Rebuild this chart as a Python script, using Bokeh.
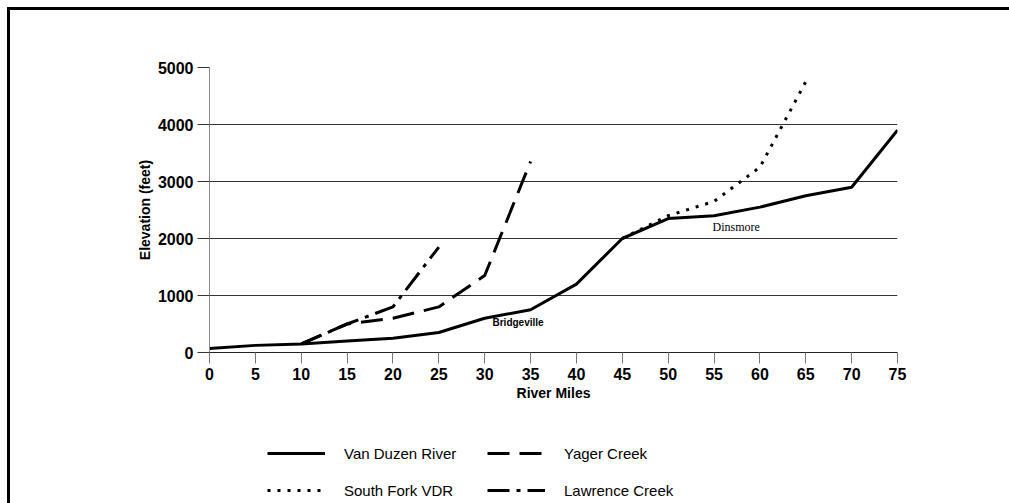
from bokeh.plotting import figure
from bokeh.models import Legend, LegendItem, Label, FixedTicker, Range1d
from bokeh.layouts import column
from bokeh.embed import file_html
from bokeh.resources import INLINE

# ---- data ----
van_duzen_x = [0, 5, 10, 15, 20, 25, 30, 35, 40, 45, 50, 55, 60, 65, 70, 75]
van_duzen_y = [70, 125, 150, 200, 250, 350, 600, 750, 1200, 2000, 2350, 2400, 2550, 2750, 2900, 3900]

yager_x = [10, 15, 20, 25, 30, 35]
yager_y = [150, 500, 600, 800, 1350, 3350]

south_fork_x = [45, 50, 55, 60, 65]
south_fork_y = [2000, 2400, 2650, 3250, 4750]

lawrence_x = [10, 15, 20, 25]
lawrence_y = [150, 500, 800, 1850]

x_ticks = [0, 5, 10, 15, 20, 25, 30, 35, 40, 45, 50, 55, 60, 65, 70, 75]
y_ticks = [0, 1000, 2000, 3000, 4000, 5000]

series_names = ["Van Duzen River", "Yager Creek", "South Fork VDR", "Lawrence Creek"]
series_x = [van_duzen_x, yager_x, south_fork_x, lawrence_x]
series_y = [van_duzen_y, yager_y, south_fork_y, lawrence_y]

FONT = "Liberation Sans"
DASHES = ["solid", "22 10", "3 7", "22 7 4 7"]

p = figure(width=1009, height=420, output_backend="svg", toolbar_location=None,
           x_range=Range1d(0, 75), y_range=Range1d(0, 5000),
           min_border_left=209, min_border_right=112, min_border_top=67, min_border_bottom=68)
p.border_fill_color = None
p.background_fill_color = "white"
p.outline_line_color = None
p.styles = {"box-shadow": "inset 7px 7px 0 0 white, inset 10px 10px 0 0 black"}

# axes
p.xaxis.ticker = FixedTicker(ticks=x_ticks)
p.yaxis.ticker = FixedTicker(ticks=y_ticks)
for ax in (p.xaxis, p.yaxis):
    ax.major_label_text_font = FONT
    ax.major_label_text_font_style = "bold"
    ax.major_label_text_font_size = "16px"
    ax.major_label_text_color = "black"
    ax.minor_tick_line_color = None
    ax.major_tick_in = 0
    ax.axis_label_text_font = FONT
    ax.axis_label_text_font_style = "bold"
    ax.axis_label_text_font_size = "14px"
    ax.axis_label_text_color = "black"

p.xaxis.axis_label = "River Miles"
p.xaxis.axis_line_color = "#222222"
p.xaxis.major_tick_line_color = "#777777"
p.xaxis.major_tick_out = 11
p.xaxis.major_label_standoff = 4
p.xaxis.axis_label_standoff = 2

p.yaxis.axis_label = "Elevation (feet)"
p.yaxis.axis_line_color = "#888888"
p.yaxis.major_tick_line_color = "#333333"
p.yaxis.major_tick_out = 12
p.yaxis.major_label_standoff = 4
p.yaxis.axis_label_standoff = 2

p.xgrid.grid_line_color = None
p.ygrid.grid_line_color = "#333333"
p.ygrid.grid_line_width = 1

# lines
for xs, ys, dash in zip(series_x, series_y, DASHES):
    p.line(xs, ys, line_color="black", line_width=3, line_dash=dash)

# annotations
p.add_layout(Label(x=30.85, y=526, text="Bridgeville", text_font=FONT, text_font_style="bold",
                   text_font_size="10px", text_baseline="middle", text_color="black"))
p.add_layout(Label(x=54.84, y=2210, text="Dinsmore", text_font="Liberation Serif",
                   text_font_size="12px", text_baseline="middle", text_color="black"))

# legend panel (second figure; its lines lie outside its visible range)
p2 = figure(width=1009, height=83, output_backend="svg", toolbar_location=None,
            x_range=Range1d(0, 1), y_range=Range1d(-2, -1),
            min_border=0, min_border_left=0, min_border_right=0, min_border_top=0, min_border_bottom=0)
p2.axis.visible = False
p2.grid.visible = False
p2.outline_line_color = None
p2.border_fill_color = None
p2.background_fill_color = None
p2.styles = {"box-shadow": "inset 7px 0 0 0 white, inset 10px 0 0 0 black"}

items = []
for name, xs, ys, dash in zip(series_names, series_x, series_y, DASHES):
    r = p2.line(xs, ys, line_color="black", line_width=3, line_dash=dash)
    items.append(LegendItem(label=name, renderers=[r]))

legend = Legend(items=items, orientation="horizontal", ncols=2, location=(58, 3))
legend.padding = 0
legend.margin = 0
legend.border_line_color = None
legend.background_fill_color = None
legend.glyph_width = 58
legend.glyph_height = 20
legend.label_height = 20
legend.label_width = 126
legend.label_standoff = 19
legend.spacing = 17
legend.label_text_font = FONT
legend.label_text_font_size = "15px"
legend.label_text_color = "black"
p2.add_layout(legend, "center")

layout = column(p, p2, spacing=0)
open("out.html", "w").write(file_html(layout, INLINE))
